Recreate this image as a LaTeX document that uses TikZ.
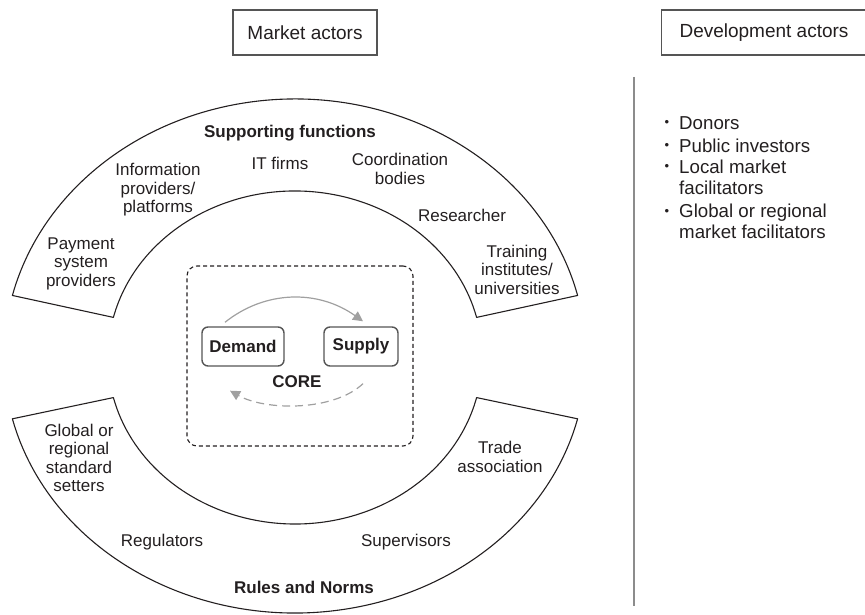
\documentclass[tikz,border=0pt]{standalone}
\usepackage{fontspec}
\setmainfont{Liberation Sans}
\usetikzlibrary{arrows.meta,calc}
\definecolor{ink}{HTML}{231F20}
\definecolor{arrowgray}{HTML}{A0A0A0}
\definecolor{boxgray}{HTML}{555555}
\definecolor{rulegray}{HTML}{8C8C8C}
\begin{document}
\begin{tikzpicture}[x=1pt,y=1pt,
  lbl/.style={font=\fontsize{17}{18.5}\selectfont, text=ink, align=center, inner sep=0pt},
  blbl/.style={lbl, font=\fontsize{17}{18.5}\selectfont\bfseries},
  big/.style={font=\fontsize{18.7}{20.5}\selectfont, text=ink, inner sep=0pt, align=left},
  bul/.style={font=\fontsize{13}{13}\selectfont, text=ink, inner sep=0pt},
  ring/.style={draw=ink, line width=1.1pt, line join=round},
  actorbox/.style={draw=boxgray, line width=1.1pt, minimum height=45pt, font=\fontsize{19}{21}\selectfont, text=ink},
  corebox/.style={draw=boxgray, line width=1.4pt, rounded corners=6pt, minimum height=39pt, inner sep=0pt, font=\fontsize{17}{18.5}\selectfont\bfseries, text=ink},
  coreframe/.style={draw=ink, line width=1.1pt, dash pattern=on 4pt off 3pt, rounded corners=10pt, minimum width=226pt, minimum height=180pt, inner sep=0pt},
  flow/.style={draw=arrowgray, line width=1.2pt, -{Triangle[length=10pt,width=10pt]}},
  backflow/.style={flow, dash pattern=on 8pt off 5pt}
]
\useasboundingbox (0,0) rectangle (865,615);

% top actor boxes
\node[actorbox, minimum width=144pt] (market) at (305,582.5) {Market actors};
\node[actorbox, anchor=west, inner xsep=18pt] (devel) at (661,582.5) {Development actors};

% supporting functions ring
\draw[ring, shift={(295,258)}] (13.8:291pt and 258pt)
  arc[start angle=13.8, end angle=166.2, x radius=291pt, y radius=258pt]
  -- (166.2:187pt and 166pt)
  arc[start angle=166.2, end angle=13.8, x radius=187pt, y radius=166pt] -- cycle;

% rules and norms ring
\draw[ring, shift={(295,257)}] (193.8:291pt and 255pt)
  arc[start angle=193.8, end angle=346.2, x radius=291pt, y radius=255pt]
  -- (346.2:187pt and 166pt)
  arc[start angle=346.2, end angle=193.8, x radius=187pt, y radius=166pt] -- cycle;

% ring labels (top)
\node[blbl] (supfun) at (290,482) {Supporting functions};
\node[lbl] (info) at (158,425) {Information\\providers/\\platforms};
\node[lbl] (itf) at (280,452) {IT firms};
\node[lbl] (coord) at (400,446) {Coordination\\bodies};
\node[lbl] (resr) at (462,400) {Researcher};
\node[lbl] (train) at (517,345.5) {Training\\institutes/\\universities};
\node[lbl] (pay) at (81,351.5) {Payment\\system\\providers};

% ring labels (bottom)
\node[lbl] (glob) at (79,157) {Global or\\regional\\standard\\setters};
\node[lbl] (trade) at (500,158) {Trade\\association};
\node[lbl] (regu) at (162,73) {Regulators};
\node[lbl] (superv) at (406,73) {Supervisors};
\node[blbl] (rules) at (304,28) {Rules and Norms};

% core
\node[coreframe] (core) at (300,259) {};
\node[corebox, minimum width=82pt] (demand) at (243,268.5) {Demand};
\node[corebox, minimum width=74pt] (supply) at (361,268.5) {Supply};
\node[blbl] (corelbl) at (297,233) {CORE};

\coordinate (f1) at ($(demand.north)+(-18,4)$);
\coordinate (f2) at ($(supply.north)+(2,5)$);
\draw[flow] (f1) .. controls ($(f1)+(40,32)$) and ($(f2)+(-45,32)$) .. (f2);
\coordinate (b1) at ($(supply.south)+(2,-17)$);
\coordinate (b2) at ($(demand.south)+(-13,-24)$);
\draw[backflow] (b1) .. controls ($(b1)+(-30,-28)$) and ($(b2)+(35,-20)$) .. (b2);

% divider
\coordinate (vtop) at (634,538);
\coordinate (vbot) at (634,9);
\draw[draw=rulegray, line width=1.2pt] (vtop) -- (vbot);

% development actors list
\node[bul] (b-don) at (667,492) {•};
\node[big, anchor=west] (donors) at (679,492) {Donors};
\node[bul] (b-pub) at (667,469) {•};
\node[big, anchor=west] (public) at (679,469) {Public investors};
\node[bul] (b-loc) at (667,448) {•};
\node[big, anchor=west] (local) at (679,437.5) {Local market\\facilitators};
\node[bul] (b-glo) at (667,403) {•};
\node[big, anchor=west] (global) at (679,393.5) {Global or regional\\market facilitators};
\end{tikzpicture}
\end{document}
